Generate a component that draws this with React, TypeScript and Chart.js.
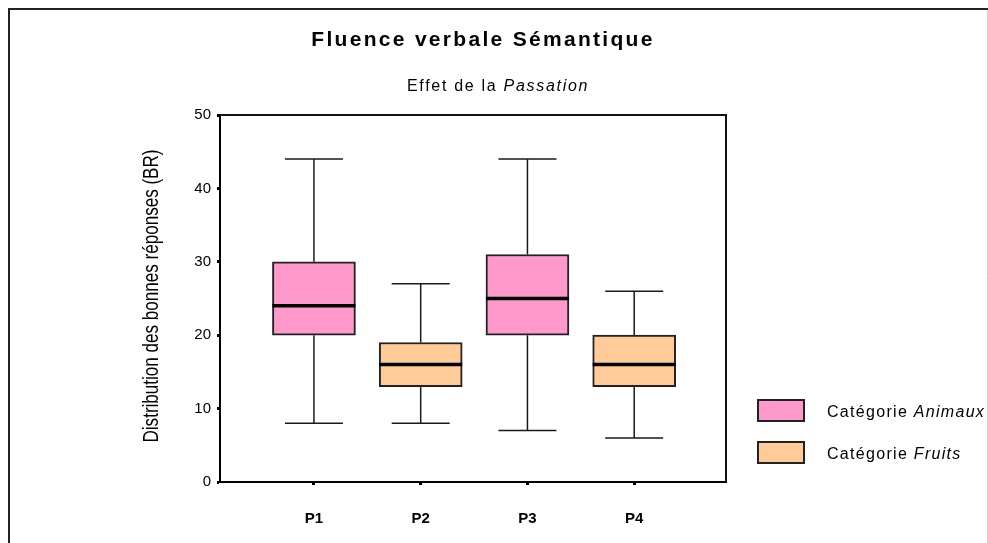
import React, { useEffect, useRef } from "react";
import { Chart, registerables } from "chart.js";

Chart.register(...registerables);

const categories = ["P1", "P2", "P3", "P4"];
const whiskerLow = [8, 8, 7, 6];
const q1 = [20, 13, 20, 13];
const medians = [24, 16, 25, 16];
const q3 = [30, 19, 31, 20];
const whiskerHigh = [44, 27, 44, 26];
const seriesOf = ["Animaux", "Fruits", "Animaux", "Fruits"];
const seriesNames = ["Animaux", "Fruits"];
const seriesColors = ["#FF99CC", "#FFCC99"];
const yTicks = [0, 10, 20, 30, 40, 50];

const FONT = "'Liberation Sans', Arial, sans-serif";

function drawSpaced(ctx: CanvasRenderingContext2D, parts: { t: string; f: string }[], x: number, y: number, spacing: string) {
  ctx.save();
  (ctx as any).letterSpacing = spacing;
  ctx.textAlign = "left";
  ctx.textBaseline = "alphabetic";
  let cx = x;
  for (const p of parts) {
    ctx.font = p.f;
    ctx.fillText(p.t, cx, y);
    cx += ctx.measureText(p.t).width;
  }
  ctx.restore();
}

function widthOf(ctx: CanvasRenderingContext2D, parts: { t: string; f: string }[], spacing: string) {
  ctx.save();
  (ctx as any).letterSpacing = spacing;
  let w = 0;
  for (const p of parts) {
    ctx.font = p.f;
    w += ctx.measureText(p.t).width;
  }
  ctx.restore();
  return w;
}

const decorPlugin = {
  id: "decor",
  beforeDraw(chart: any) {
    const ctx = chart.ctx as CanvasRenderingContext2D;
    ctx.save();
    ctx.fillStyle = "#ffffff";
    ctx.fillRect(0, 0, chart.width, chart.height);
    // outer frame
    ctx.strokeStyle = "#222";
    ctx.lineWidth = 2;
    ctx.beginPath();
    ctx.moveTo(9, chart.height);
    ctx.lineTo(9, 9);
    ctx.lineTo(chart.width, 9);
    ctx.stroke();
    ctx.strokeStyle = "#d0d0d0";
    ctx.lineWidth = 1;
    ctx.beginPath();
    ctx.moveTo(987.5, 10);
    ctx.lineTo(987.5, chart.height);
    ctx.stroke();
    ctx.fillStyle = "#000";
    // title
    const tParts = [{ t: "Fluence verbale Sémantique", f: `bold 21px ${FONT}` }];
    const tw = widthOf(ctx, tParts, "2.3px");
    drawSpaced(ctx, tParts, 483 - tw / 2, 46, "2.3px");
    const sParts = [
      { t: "Effet de la ", f: `16px ${FONT}` },
      { t: "Passation", f: `italic 16px ${FONT}` },
    ];
    const sw = widthOf(ctx, sParts, "1.7px");
    drawSpaced(ctx, sParts, 498 - sw / 2, 91, "1.7px");
    // y axis title
    ctx.save();
    ctx.translate(152, 296);
    ctx.rotate(-Math.PI / 2);
    ctx.font = `22px ${FONT}`;
    ctx.textAlign = "center";
    ctx.textBaseline = "middle";
    ctx.fillText("Distribution des bonnes réponses (BR)", 0, 0, 293);
    ctx.restore();
    // legend
    seriesNames.forEach((name, i) => {
      const by = 400 + i * 42;
      ctx.fillStyle = seriesColors[i];
      ctx.fillRect(758, by, 46, 21);
      ctx.strokeStyle = "#222";
      ctx.lineWidth = 2;
      ctx.strokeRect(758, by, 46, 21);
      ctx.fillStyle = "#000";
      drawSpaced(
        ctx,
        [
          { t: "Catégorie ", f: `16px ${FONT}` },
          { t: name, f: `italic 16px ${FONT}` },
        ],
        827,
        by + 17,
        "1.3px"
      );
    });
    ctx.restore();
  },
  afterDatasetsDraw(chart: any) {
    const ctx = chart.ctx as CanvasRenderingContext2D;
    const xs = chart.scales.x;
    const ys = chart.scales.y;
    ctx.save();
    categories.forEach((_, i) => {
      const cx = xs.getPixelForValue(i + 1);
      const yLo = ys.getPixelForValue(whiskerLow[i]);
      const yQ1 = ys.getPixelForValue(q1[i]);
      const yQ3 = ys.getPixelForValue(q3[i]);
      const yHi = ys.getPixelForValue(whiskerHigh[i]);
      const yMed = ys.getPixelForValue(medians[i]);
      ctx.strokeStyle = "#1a1a1a";
      ctx.lineWidth = 1.5;
      ctx.beginPath();
      ctx.moveTo(cx, yQ3);
      ctx.lineTo(cx, yHi);
      ctx.moveTo(cx - 29, yHi);
      ctx.lineTo(cx + 29, yHi);
      ctx.moveTo(cx, yQ1);
      ctx.lineTo(cx, yLo);
      ctx.moveTo(cx - 29, yLo);
      ctx.lineTo(cx + 29, yLo);
      ctx.stroke();
      ctx.strokeStyle = "#000";
      ctx.lineWidth = 3.5;
      ctx.beginPath();
      ctx.moveTo(cx - 41.5, yMed);
      ctx.lineTo(cx + 41.5, yMed);
      ctx.stroke();
    });
    // plot frame (top & right)
    const a = chart.chartArea;
    ctx.strokeStyle = "#111";
    ctx.lineWidth = 2;
    ctx.beginPath();
    ctx.moveTo(a.left, a.top);
    ctx.lineTo(a.right, a.top);
    ctx.lineTo(a.right, a.bottom);
    ctx.stroke();
    ctx.restore();
  },
};

export default function App() {
  const ref = useRef<HTMLCanvasElement | null>(null);
  useEffect(() => {
    if (!ref.current) return;
    const datasets = seriesNames.map((name, s) => ({
      label: "Catégorie " + name,
      data: categories
        .map((_, i) => ({ x: i + 1, y: [q1[i], q3[i]] }))
        .filter((_, i) => seriesOf[i] === name),
      backgroundColor: seriesColors[s],
      borderColor: "#222",
      borderWidth: 2,
      borderSkipped: false,
      barThickness: 83,
      grouped: false,
    }));
    const chart = new Chart(ref.current, {
      type: "bar",
      data: { datasets: datasets as any },
      options: {
        animation: false,
        responsive: false,
        devicePixelRatio: 1,
        layout: { padding: { top: 115, right: 262, left: 0, bottom: 0 } },
        plugins: { legend: { display: false }, title: { display: false }, tooltip: { enabled: false } },
        scales: {
          x: {
            type: "linear",
            offset: false,
            min: 0.12,
            max: 4.86,
            afterFit: (scale: any) => {
              scale.height = 61;
            },
            afterBuildTicks: (scale: any) => {
              scale.ticks = categories.map((_, i) => ({ value: i + 1 }));
            },
            ticks: {
              callback: (v: any) => categories[Number(v) - 1] ?? "",
              font: { family: FONT, size: 15, weight: "bold" },
              color: "#000",
              padding: 25,
              maxRotation: 0,
            },
            grid: { offset: false, drawOnChartArea: false, drawTicks: true, tickLength: 3, tickWidth: 3, color: "#000" },
            border: { display: true, color: "#000", width: 2 },
          },
          y: {
            type: "linear",
            min: 0,
            max: 50,
            afterFit: (scale: any) => {
              scale.width = 220;
            },
            afterBuildTicks: (scale: any) => {
              scale.ticks = yTicks.map((v) => ({ value: v }));
            },
            ticks: {
              font: { family: FONT, size: 15 },
              color: "#000",
              padding: 6,
            },
            grid: { drawOnChartArea: false, drawTicks: true, tickLength: 3, tickWidth: 3, color: "#000" },
            border: { display: true, color: "#000", width: 2 },
          },
        },
      },
      plugins: [decorPlugin],
    });
    return () => chart.destroy();
  }, []);
  return (
    <div style={{ position: "absolute", left: 0, top: 0, width: 988, height: 543 }}>
      <canvas ref={ref} width={988} height={543} style={{ width: 988, height: 543 }} />
    </div>
  );
}
